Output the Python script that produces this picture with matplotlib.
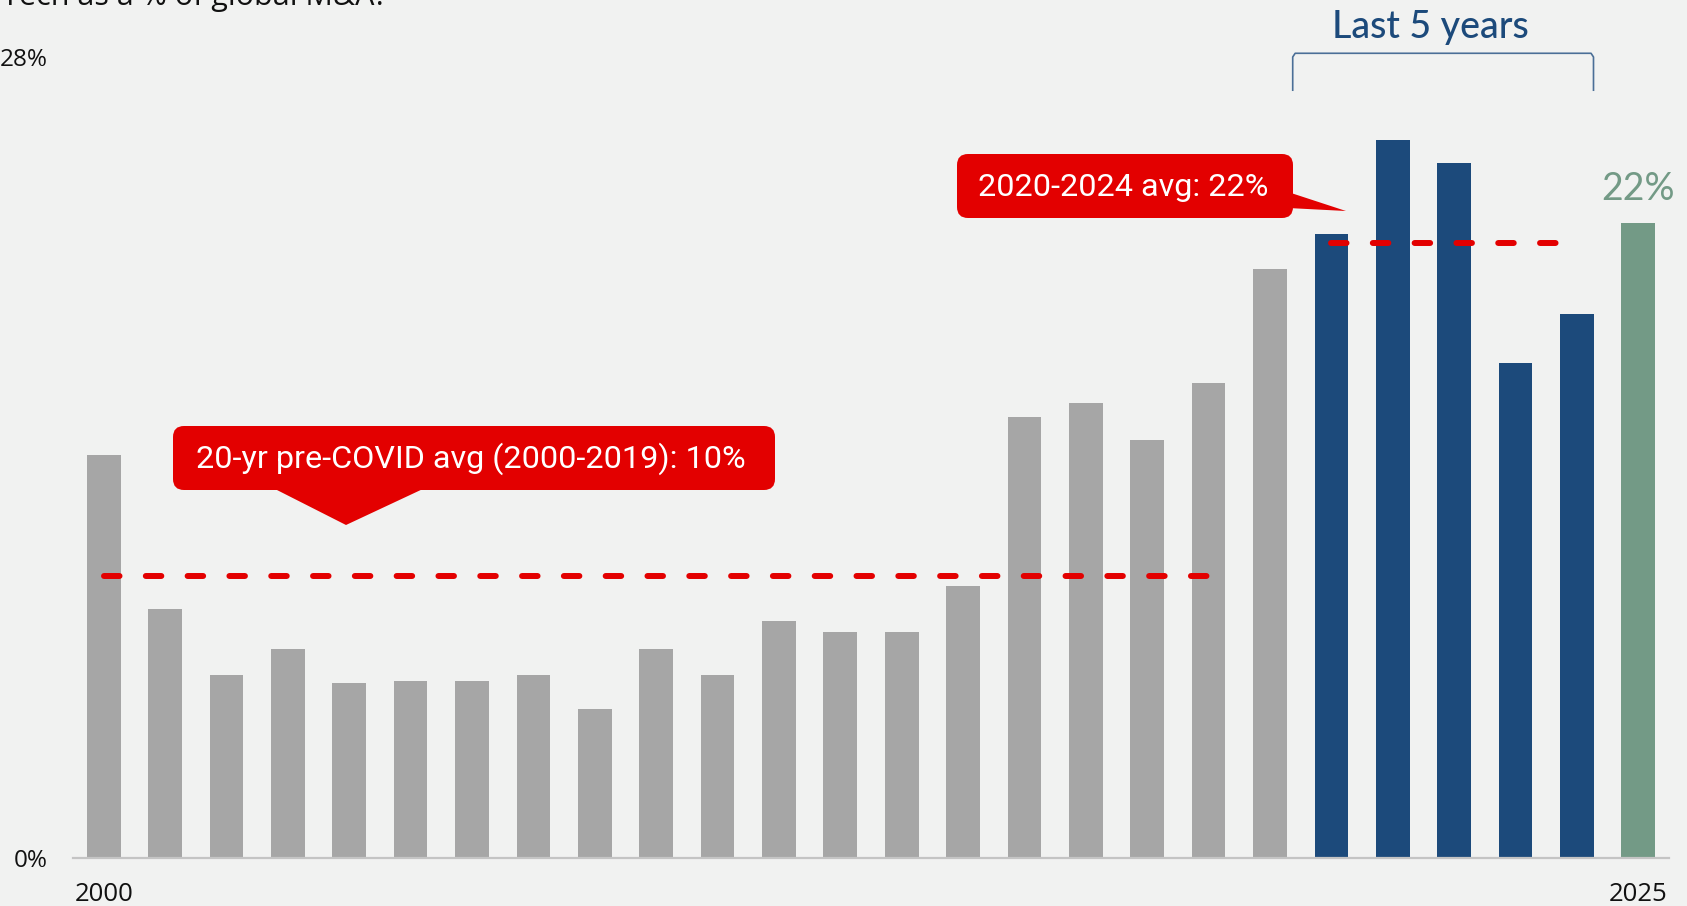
import matplotlib
matplotlib.use("Agg")
import matplotlib.pyplot as plt
from matplotlib.patches import FancyBboxPatch, Polygon
import numpy as np

# Tech deal value as a share of global M&A, by year
years = list(range(2000, 2026))
share = [14.1, 8.7, 6.4, 7.3, 6.1, 6.2, 6.2, 6.4, 5.2, 7.3,
         6.4, 8.3, 7.9, 7.9, 9.5, 15.4, 15.9, 14.6, 16.6, 20.6,
         21.8, 25.1, 24.3, 17.3, 19.0, 22.2]
tick_years = [2000, 2025]
y_ticks = [0, 28]

pre_covid_years = years[:20]
recent_years = years[20:25]
pre_covid_avg = float(np.mean(share[:20]))
recent_avg = float(np.mean(share[20:25]))

BG = "#f1f2f1"
GREY = "#a6a6a6"
BLUE = "#1c4a7b"
GREEN = "#739a86"
RED = "#e30000"

W, H = 1687, 906
fig = plt.figure(figsize=(W / 100, H / 100), dpi=100, facecolor=BG)
ax = fig.add_axes([73 / W, 1 - 858 / H, (1669 - 73) / W, (858 - 57) / H])
ax.set_facecolor(BG)

colors = [GREY] * 20 + [BLUE] * 5 + [GREEN]
ax.bar(years, share, width=0.55, color=colors, zorder=2)

ax.set_xlim(1999.5, 2025.5)
ax.set_ylim(0, 28)
for s in ["top", "right", "left"]:
    ax.spines[s].set_visible(False)
ax.spines["bottom"].set_color("#c4c4c4")
ax.spines["bottom"].set_linewidth(1.6)

ax.set_xticks(tick_years)
ax.set_xticklabels([str(y) for y in tick_years], fontsize=18.5,
                   family="Open Sans", color="#111111")
ax.set_yticks(y_ticks)
ax.set_yticklabels([f"{v}%" for v in y_ticks], fontsize=17.5,
                   family="Open Sans", color="#111111")
ax.tick_params(axis="both", length=0)
ax.tick_params(axis="y", pad=18)
ax.tick_params(axis="x", pad=17.5)

# average reference lines
dash = (0, (2.6, 4.4))
ax.plot([2000, 2018.05], [pre_covid_avg] * 2, color=RED, lw=4.3,
        linestyle=dash, dash_capstyle="round", zorder=3)
ax.plot([2020, 2023.75], [recent_avg] * 2, color=RED, lw=4.3,
        linestyle=dash, dash_capstyle="round", zorder=3)

# 2025 value label
ax.text(years[-1], share[-1] + 1.17, f"{share[-1]:.0f}%", ha="center",
        va="center", fontsize=27, family="Lato", color=GREEN)

# "Last 5 years" bracket
bx0, bx1 = 2019.37, 2024.27
ax.plot([bx0, bx0, bx0 + 0.04, bx1 - 0.04, bx1, bx1],
        [26.84, 28.0, 28.13, 28.13, 28.0, 26.84],
        color="#4b6f97", lw=1.2, clip_on=False, zorder=3)
ax.text(2021.62, 28.66, "Last 5 years", ha="center", va="baseline",
        fontsize=27, family="Lato", fontweight="medium", color=BLUE,
        clip_on=False)

# callouts drawn on a pixel overlay
ov = fig.add_axes([0, 0, 1, 1], zorder=5)
ov.set_xlim(0, W)
ov.set_ylim(H, 0)
ov.axis("off")

def callout(x, y, w, h, pointer, label, tx):
    ov.add_patch(FancyBboxPatch((x, y), w, h,
                                boxstyle="round,pad=0,rounding_size=11",
                                fc=RED, ec="none"))
    ov.add_patch(Polygon(pointer, closed=True, fc=RED, ec="none"))
    ov.text(tx, y + h / 2 + 1, label, ha="center", va="center",
            fontsize=23.3, family="Roboto", color="white")

callout(957, 154, 336, 64, [(1288, 192), (1346, 211), (1288, 208)],
        f"{recent_years[0]}-{recent_years[-1]} avg: {recent_avg:.0f}%", 1123.5)
callout(173, 426, 602, 64, [(273, 488), (346, 525), (425, 488)],
        f"20-yr pre-COVID avg ({pre_covid_years[0]}-{pre_covid_years[-1]}): "
        f"{pre_covid_avg:.0f}%", 471)

# chart heading, running off the top edge
fig.text(388 / W, 1 - 5 / H, "Tech as a % of global M&A?", ha="right",
         va="baseline", fontsize=22, family="Open Sans", color="#111111")

fig.savefig("out.png", dpi=100, facecolor=BG)
